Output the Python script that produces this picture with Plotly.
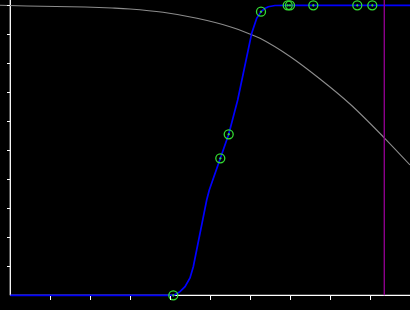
import plotly.graph_objects as go

# ---- data ----
gray_x = [-0.2575, 0.4175, 1.8675, 2.5425, 2.9925, 3.8175, 4.6675, 5.4925,
          5.9925, 6.2425, 6.9925, 7.7425, 8.4925, 9.3425, 9.9925]
gray_y = [1.0, 0.9976, 0.9941, 0.9907, 0.9872, 0.9759, 0.9552, 0.9262,
          0.9010, 0.8862, 0.8235, 0.7459, 0.6597, 0.5441, 0.4493]

blue_x = [0.0, 4.075, 4.16, 4.2425, 4.3675, 4.4925, 4.575, 4.66, 4.785, 4.91, 4.975,
          5.25, 5.46, 5.685, 5.8675, 6.035, 6.16, 6.2675, 6.36, 6.45, 6.6175, 6.99, 9.9925]
blue_y = [0.0, 0.0, 0.0052, 0.0124, 0.0297, 0.0597, 0.0986, 0.1562, 0.2493, 0.3286, 0.3631,
          0.4724, 0.5552, 0.6734, 0.7883, 0.9034, 0.9552, 0.9779, 0.9890, 0.9952, 0.9993, 1.0, 1.0]

marker_x = [4.075, 5.25, 5.46, 6.2675, 6.935, 6.9925, 7.575, 8.675, 9.05]
marker_y = [0.0, 0.4724, 0.5552, 0.9779, 1.0, 1.0, 1.0, 1.0, 1.0]

vline_x = 9.35

x_ticks = [1, 2, 3, 4, 5, 6, 7, 8, 9]
y_ticks = [0.1, 0.2, 0.3, 0.4, 0.5, 0.6, 0.7, 0.8, 0.9, 1.0]

X_RANGE = [-0.2575, 9.9925]
Y_RANGE = [-0.0507, 1.0183]

fig = go.Figure()
fig.add_trace(go.Scatter(x=gray_x, y=gray_y, mode="lines",
                         line=dict(color="#8c8c8c", width=1.1, shape="spline", smoothing=1.0),
                         showlegend=False, hoverinfo="skip"))
fig.add_trace(go.Scatter(x=blue_x, y=blue_y, mode="lines",
                         line=dict(color="#0000ff", width=1.7, shape="linear"),
                         showlegend=False, hoverinfo="skip"))
fig.add_trace(go.Scatter(x=[vline_x, vline_x], y=[0, Y_RANGE[1]], mode="lines",
                         line=dict(color="#8b008b", width=1.4),
                         showlegend=False, hoverinfo="skip"))
fig.add_trace(go.Scatter(x=marker_x, y=marker_y, mode="markers",
                         marker=dict(symbol="circle-open-dot", size=9, color="#33dd33",
                                     line=dict(width=1.3, color="#33dd33")),
                         cliponaxis=False, showlegend=False, hoverinfo="skip"))

# axis lines
fig.add_shape(type="line", xref="x", yref="y", x0=0, x1=X_RANGE[1], y0=0, y1=0,
              line=dict(color="white", width=1.3), layer="below")
fig.add_shape(type="line", xref="x", yref="y", x0=0, x1=0, y0=0, y1=Y_RANGE[1],
              line=dict(color="white", width=1.3), layer="below")

fig.update_layout(
    width=410, height=310,
    margin=dict(l=0, r=0, t=0, b=0),
    paper_bgcolor="black", plot_bgcolor="black",
    xaxis=dict(range=X_RANGE, showgrid=False, zeroline=False, showline=False,
               tickvals=x_ticks, ticks="outside", ticklen=4, tickwidth=1.2,
               tickcolor="white", showticklabels=False,
               anchor="free", position=(310 - 295.3) / 310),
    yaxis=dict(range=Y_RANGE, showgrid=False, zeroline=False, showline=False,
               tickvals=y_ticks, ticks="outside", ticklen=3, tickwidth=1.2,
               tickcolor="white", showticklabels=False,
               anchor="free", position=10.3 / 410),
)

fig.write_html("out.html")
